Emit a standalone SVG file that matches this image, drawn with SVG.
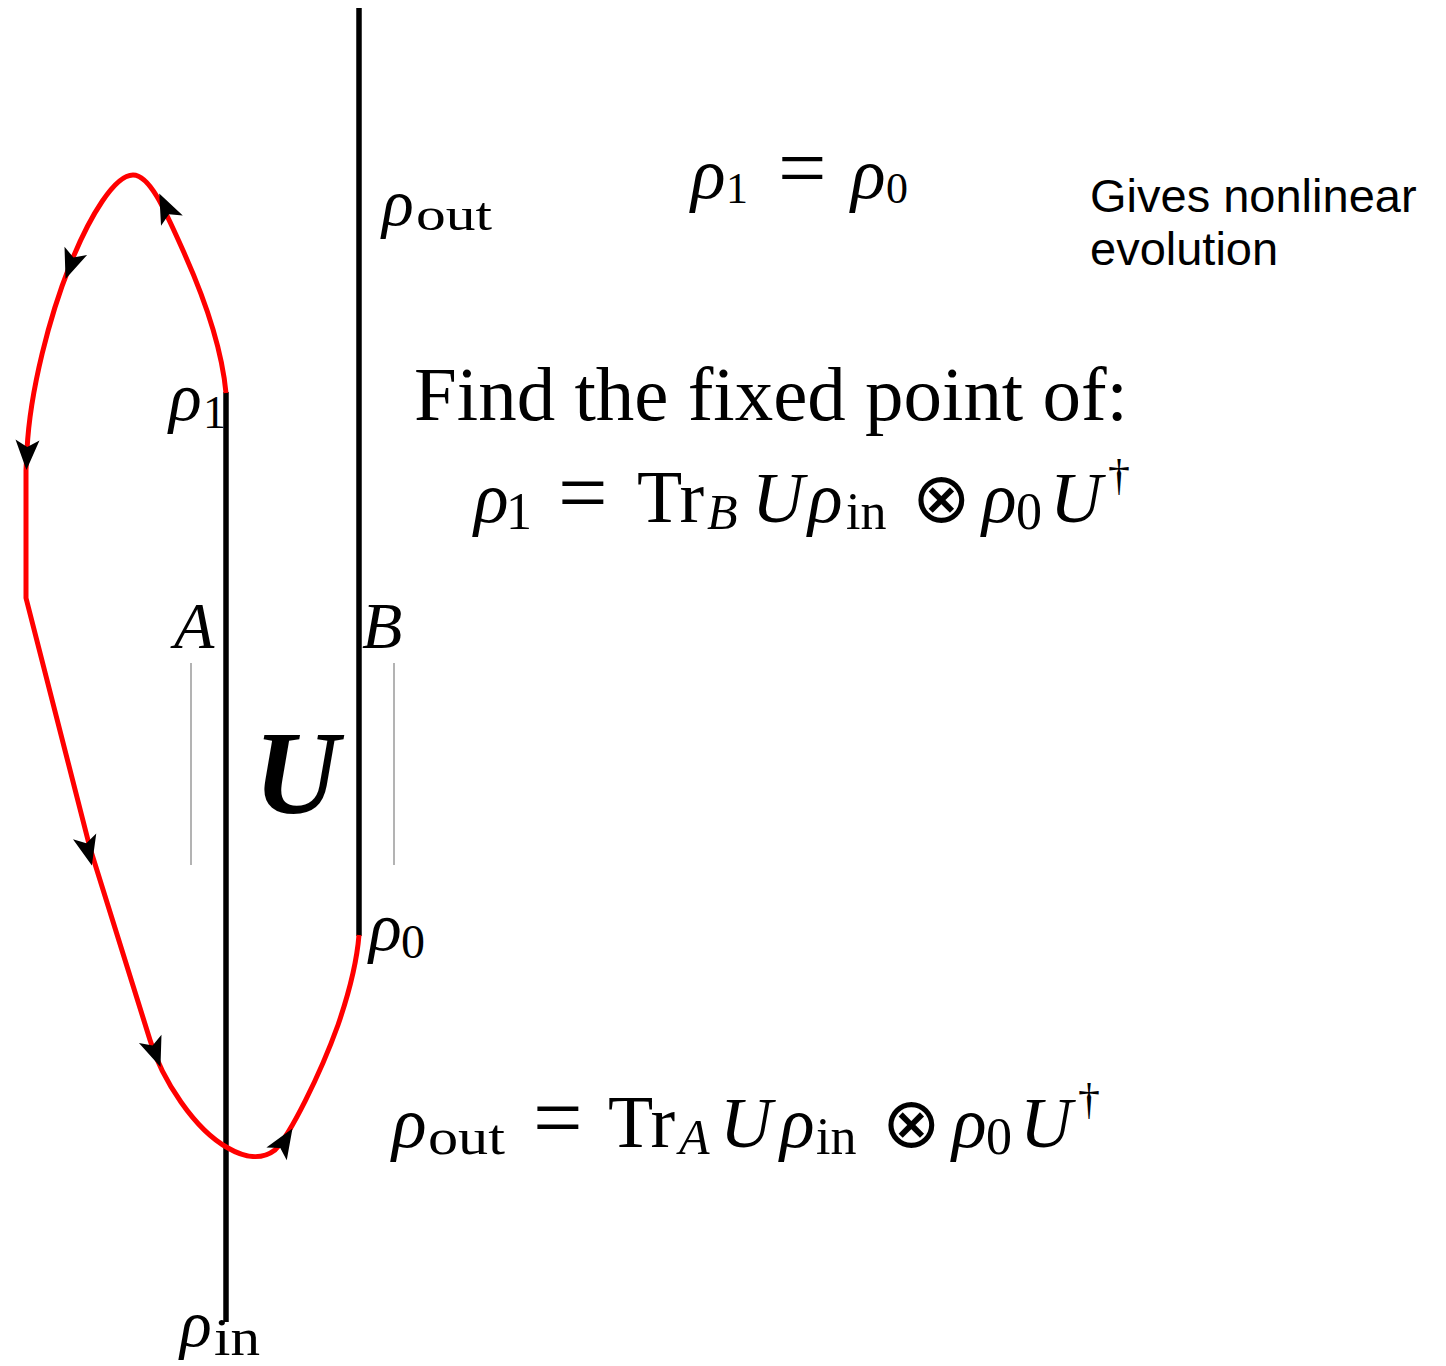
<svg xmlns="http://www.w3.org/2000/svg" width="1446" height="1366" viewBox="0 0 1446 1366">
<style>
.wire{stroke:#000;stroke-width:5.5;fill:none}
.guide{stroke:#9a9a9a;stroke-width:1.5;fill:none}
.loop{stroke:#ff0000;stroke-width:5;fill:none;stroke-linejoin:round}
.m{font-family:"Liberation Serif","DejaVu Serif",serif;fill:#000}
.i{font-style:italic}
.o{font-family:"DejaVu Sans","Noto Sans",sans-serif;font-weight:200}
.s{font-family:"Liberation Sans",Arial,sans-serif;fill:#000}
</style>
<defs>
<path id="ah" d="M16,0 L-14,-12 L-7,0 L-14,12 Z" fill="#000"/>
</defs>
<rect width="1446" height="1366" fill="#fff"/>
<g id="wires">
<line id="wireA" class="wire" x1="226" y1="392" x2="226" y2="1322"/>
<line id="wireB" class="wire" x1="359" y1="8" x2="359" y2="936"/>
<line class="guide" x1="191" y1="663" x2="191" y2="865"/>
<line class="guide" x1="394" y1="663" x2="394" y2="865"/>
</g>
<g id="connectors">
<path class="loop" d="M226,393 C222,350 205,300 185,255 C165,210 150,175 133,175 C115,175 90,215 70,265 C50,315 30,390 27,450 L26,470 L26,598 L90,848 L150,1040 C162,1080 195,1130 228,1148 C245,1158 262,1160 275,1150 C290,1135 320,1075 338,1025 C350,990 357,960 359,935"/>
<use href="#ah" transform="translate(166,208) rotate(-115)"/>
<use href="#ah" transform="translate(71,264) rotate(110)"/>
<use href="#ah" transform="translate(27,454) rotate(92)"/>
<use href="#ah" transform="translate(88,850) rotate(76)"/>
<use href="#ah" transform="translate(155,1052) rotate(70)"/>
<use href="#ah" transform="translate(284,1142) rotate(-58)"/>
</g>
<g id="labels">
<text class="m"><tspan class="i" x="382" y="225" font-size="66">ρ</tspan><tspan x="416" y="230" font-size="46" textLength="76" lengthAdjust="spacingAndGlyphs">out</tspan></text>
<text class="m"><tspan class="i" x="169" y="420" font-size="68">ρ</tspan><tspan x="203" y="428" font-size="46">1</tspan></text>
<text class="m i" x="174" y="648" font-size="66">A</text>
<text class="m i" x="362" y="648" font-size="66">B</text>
<text class="m i" x="254" y="813" font-size="118" font-weight="bold">U</text>
<text class="m"><tspan class="i" x="369" y="950" font-size="68">ρ</tspan><tspan x="401" y="958" font-size="48">0</tspan></text>
<text class="m"><tspan class="i" x="180" y="1346" font-size="66">ρ</tspan><tspan x="214" y="1355" font-size="52" textLength="46" lengthAdjust="spacingAndGlyphs">in</tspan></text>
</g>
<g id="eq-fixed">
<text class="m"><tspan class="i" x="691" y="198" font-size="72">ρ</tspan><tspan x="726" y="203" font-size="44">1</tspan><tspan x="778" y="197" font-size="86">=</tspan><tspan class="i" x="851" y="198" font-size="72">ρ</tspan><tspan x="886" y="203" font-size="44">0</tspan></text>
</g>
<g id="note">
<text class="s" font-size="47"><tspan x="1090" y="212">Gives nonlinear</tspan><tspan x="1090" y="265">evolution</tspan></text>
</g>
<g id="eq-find">
<text class="m" x="414" y="420" font-size="76" textLength="714" lengthAdjust="spacingAndGlyphs">Find the fixed point of:</text>
<text class="m"><tspan class="i" x="474" y="522" font-size="72">ρ</tspan><tspan x="506" y="529" font-size="52">1</tspan><tspan x="558" y="522" font-size="88">=</tspan><tspan x="637" y="522" font-size="74">Tr</tspan><tspan class="i" x="707" y="529" font-size="50">B</tspan><tspan class="i" x="752" y="522" font-size="72">U</tspan><tspan class="i" x="808" y="522" font-size="72">ρ</tspan><tspan x="846" y="529" font-size="52">in</tspan><tspan class="o" x="912" y="522" font-size="70">⊗</tspan><tspan class="i" x="982" y="522" font-size="72">ρ</tspan><tspan x="1016" y="529" font-size="52">0</tspan><tspan class="i" x="1050" y="522" font-size="72">U</tspan><tspan x="1108" y="490" font-size="44">†</tspan></text>
</g>
<g id="eq-out">
<text class="m"><tspan class="i" x="392" y="1147" font-size="72">ρ</tspan><tspan x="428" y="1154" font-size="50" textLength="77" lengthAdjust="spacingAndGlyphs">out</tspan><tspan x="533" y="1147" font-size="88">=</tspan><tspan x="608" y="1147" font-size="74">Tr</tspan><tspan class="i" x="679" y="1154" font-size="50">A</tspan><tspan class="i" x="720" y="1147" font-size="72">U</tspan><tspan class="i" x="780" y="1147" font-size="72">ρ</tspan><tspan x="816" y="1154" font-size="52">in</tspan><tspan class="o" x="882" y="1147" font-size="70">⊗</tspan><tspan class="i" x="952" y="1147" font-size="72">ρ</tspan><tspan x="986" y="1154" font-size="52">0</tspan><tspan class="i" x="1020" y="1147" font-size="72">U</tspan><tspan x="1078" y="1114" font-size="44">†</tspan></text>
</g>
</svg>
